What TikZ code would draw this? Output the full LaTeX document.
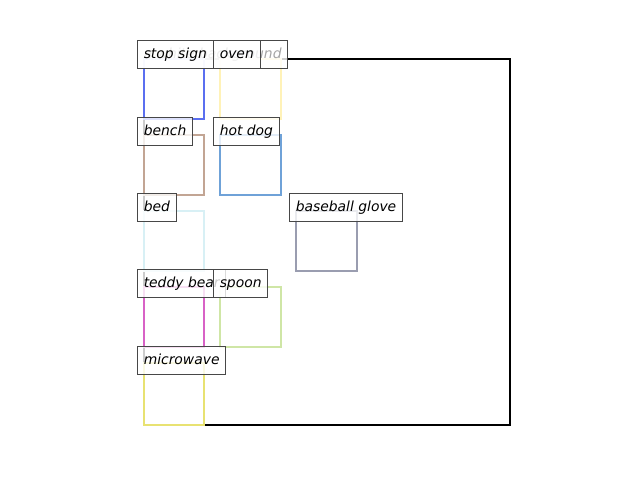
\documentclass[tikz,border=0pt]{standalone}
\usepackage{fontspec}
\setmainfont{DejaVu Sans}
\usepackage{tikz}

\definecolor{stopblue}{HTML}{5B6FF0}
\definecolor{ovenyellow}{HTML}{FFF2B8}
\definecolor{benchtan}{HTML}{C2A594}
\definecolor{hotdogblue}{HTML}{6FA2D8}
\definecolor{bedcyan}{HTML}{D8F0F5}
\definecolor{glovegray}{HTML}{9A9DB0}
\definecolor{teddypink}{HTML}{D862C6}
\definecolor{spoongreen}{HTML}{CFE6A6}
\definecolor{microyellow}{HTML}{E8E272}

\begin{document}
\begin{tikzpicture}[x=0.72pt,y=-0.72pt,font=\itshape,
  bbox/.style={line width=1.44pt},
  lbl/.style={draw=black!72,line width=0.72pt,fill=white,fill opacity=0.8,text opacity=1,
    anchor=north west,inner xsep=4.5pt,inner ysep=5pt,text height=7.6pt,text depth=2.5pt}]
 \useasboundingbox (0,0) rectangle (640,480);
 % whole image first, then the detected boxes on top of it
 \draw[line width=1.44pt,black] (144,59) rectangle (510,425);
 \draw[bbox,stopblue] (144,59) rectangle (204,119);
 \draw[bbox,ovenyellow] (220,59) rectangle (281,119);
 \draw[bbox,benchtan] (144,135) rectangle (204,195);
 \draw[bbox,hotdogblue] (220,135) rectangle (281,195);
 \draw[bbox,bedcyan] (144,211) rectangle (204,271);
 \draw[bbox,glovegray] (296,211) rectangle (357,271);
 \draw[bbox,teddypink] (144,287) rectangle (204,347);
 \draw[bbox,spoongreen] (220,287) rectangle (281,347);
 \draw[bbox,microyellow] (144,363) rectangle (204,425);
 % labels at the top left corners
 \node[lbl,text opacity=0.35] (background) at (137,40) {a white background};
 \node[lbl] (stopsign) at (137,40) {stop sign};
 \node[lbl] (oven) at (213,40) {oven};
 \node[lbl] (bench) at (137,117) {bench};
 \node[lbl] (hotdog) at (213,117) {hot dog};
 \node[lbl] (bed) at (137,193) {bed};
 \node[lbl] (glove) at (289,193) {baseball glove};
 \node[lbl] (teddy) at (137,269) {teddy bear};
 \node[lbl] (spoon) at (213,269) {spoon};
 \node[lbl] (microwave) at (137,346) {microwave};
\end{tikzpicture}
\end{document}
